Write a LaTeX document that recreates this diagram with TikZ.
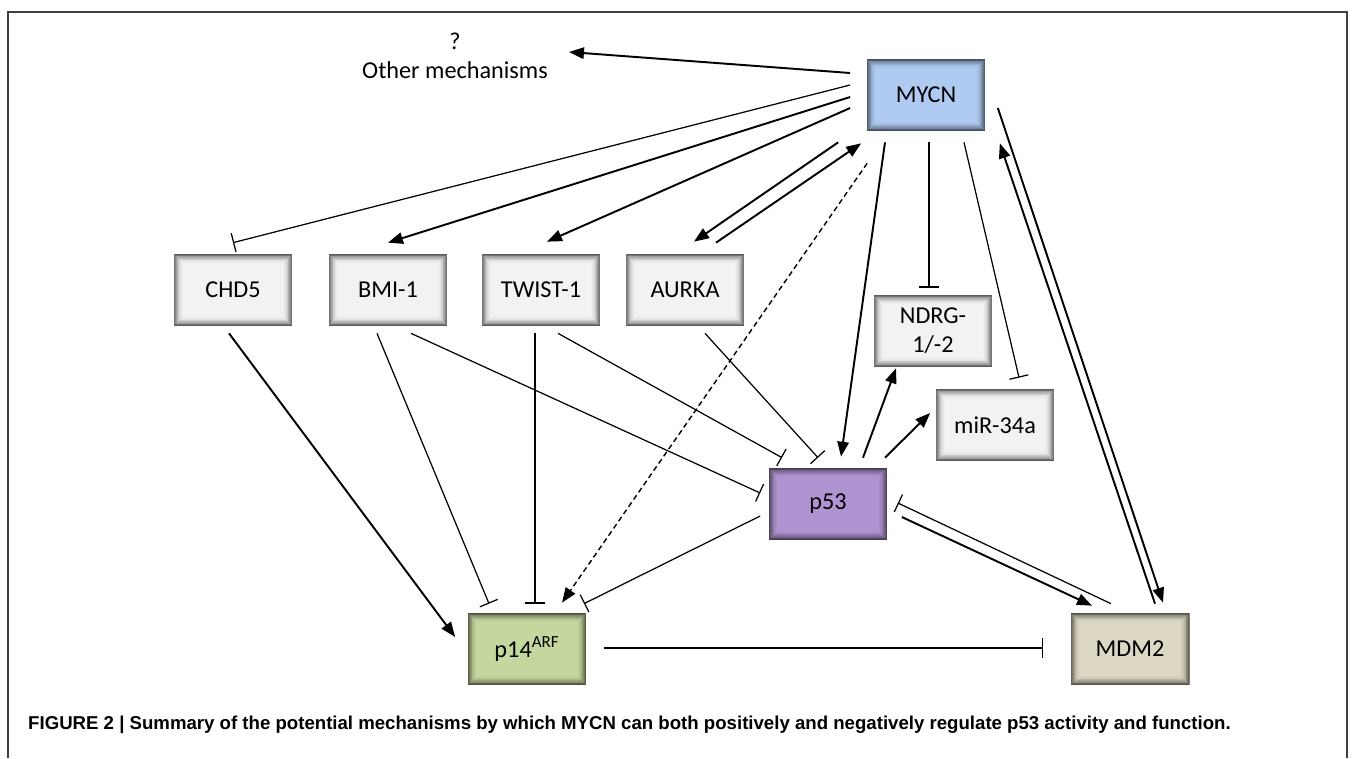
\documentclass[tikz,border=0pt]{standalone}
\usepackage{fontspec}
\usepackage{tikz}
\usetikzlibrary{arrows.meta,calc}
\newfontfamily\boxfont{Carlito}
\newfontfamily\capfont{Liberation Sans}
\definecolor{mycnblue}{HTML}{AFCBF2}
\definecolor{genegray}{HTML}{F2F2F2}
\definecolor{ppurple}{HTML}{B094D2}
\definecolor{arfgreen}{HTML}{C4D79F}
\definecolor{mdmbeige}{HTML}{DDD8C3}
\tikzset{
  gbox/.style={minimum width=2.38cm, minimum height=1.44cm, inner sep=0pt, align=center,
    font=\boxfont\fontsize{13.8}{16.5}\selectfont, fill=#1,
    path picture={
      \foreach \k in {0,...,12}{
        \pgfmathtruncatemacro\pc{100-62*((12-\k)/12)^2}
        \fill[#1!\pc!black] ([shift={(\k*0.016cm,\k*0.016cm)}]path picture bounding box.south west)
          rectangle ([shift={(-\k*0.016cm,-\k*0.016cm)}]path picture bounding box.north east);
      }
    }},
  act/.style={-{Triangle[length=8.5pt,width=6.5pt]}, line width=1.1pt},
  inh/.style={-{Bar[width=11pt]}, line width=0.7pt},
}
\begin{document}
\begin{tikzpicture}[x=0.02cm,y=-0.02cm]
  \useasboundingbox (0,0) rectangle (1356,758);
  \draw[line width=0.8pt,color=black!75] (8,758) -- (8,12) -- (1347,12) -- (1347,758);

  \node[gbox=mycnblue] (mycn) at (926,95) {MYCN};
  \node[gbox=genegray] (chd) at (233,290) {CHD5};
  \node[gbox=genegray] (bmi) at (388,290) {BMI-1};
  \node[gbox=genegray] (twist) at (541,290) {TWIST-1};
  \node[gbox=genegray] (aurka) at (685,290) {AURKA};
  \node[gbox=genegray] (ndrg) at (933,331) {NDRG-\\1/-2};
  \node[gbox=genegray] (mir) at (995,425) {miR-34a};
  \node[gbox=ppurple] (p53) at (828,504) {p53};
  \node[gbox=arfgreen] (arf) at (527,649) {p14\textsuperscript{ARF}};
  \node[gbox=mdmbeige] (mdm) at (1130,649) {MDM2};
  \node[font=\boxfont\fontsize{13.8}{16.5}\selectfont, align=center] (oth) at (455,56) {?\\Other mechanisms};

  \draw[act] ($(mycn.west)+(-16,-22)$) -- ($(oth.center)+(114,-4)$);
  \draw[inh] ($(mycn.west)+(-16,-10)$) -- ($(chd.north)+(0,-11)$);
  \draw[act] ($(mycn.west)+(-16,2)$) -- ($(bmi.north)+(0,-11)$);
  \draw[act] ($(mycn.west)+(-16,13)$) -- ($(twist.north)+(6,-12)$);
  \draw[act] ($(mycn.south west)+(-28,11)$) -- ($(aurka.north)+(9,-12)$);
  \draw[act] ($(aurka.north)+(31,-11)$) -- ($(mycn.south west)+(-5,12)$);
  \draw[act,line width=0.8pt,dash pattern=on 3pt off 2pt] ($(mycn.south west)+(1,32)$) -- ($(arf.north)+(35,-10)$);
  \draw[act] ($(mycn.south)+(-41,11)$) -- ($(p53.north)+(13,-11)$);
  \draw[inh] ($(mycn.south)+(3,11)$) -- ($(ndrg.north)+(-4,-7)$);
  \draw[inh] ($(mycn.south)+(38,11)$) -- ($(mir.north)+(24,-11)$);
  \draw[act] ($(mycn.east)+(12,13)$) -- ($(mdm.north)+(33,-10)$);
  \draw[act] ($(mdm.north)+(25,-9)$) -- ($(mycn.south east)+(14,12)$);

  \draw[act] ($(chd.south)+(-4,7)$) -- ($(arf.west)+(-12,-12)$);
  \draw[inh] ($(bmi.south)+(-11,7)$) -- ($(arf.north)+(-38,-9)$);
  \draw[inh] ($(bmi.south)+(23,7)$) -- ($(p53.west)+(-8,-11)$);
  \draw[inh] ($(twist.south)+(-6,7)$) -- ($(arf.north)+(8,-9)$);
  \draw[inh] ($(twist.south)+(17,7)$) -- ($(p53.north)+(-46,-10)$);
  \draw[inh] ($(aurka.south)+(20,7)$) -- ($(p53.north)+(-10,-10)$);

  \draw[act] ($(p53.north)+(35,-10)$) -- ($(ndrg.south)+(-37,1)$);
  \draw[act] ($(p53.north)+(57,-10)$) -- ($(mir.west)+(-5,-12)$);
  \draw[inh] ($(p53.west)+(-8,12)$) -- ($(arf.north)+(57,-9)$);
  \draw[act] ($(p53.east)+(14,13)$) -- ($(mdm.north)+(-38,-7)$);
  \draw[inh] ($(mdm.north)+(-19,-9)$) -- ($(p53.east)+(10,-1)$);
  \draw[inh] ($(arf.east)+(17,-1)$) -- ($(mdm.west)+(-27,-1)$);

  \node[anchor=base west, font=\capfont\bfseries\fontsize{10.6}{12.7}\selectfont] (cap) at (22,729)
    {FIGURE 2 | Summary of the potential mechanisms by which MYCN can both positively and negatively regulate p53 activity and function.};
\end{tikzpicture}
\end{document}
